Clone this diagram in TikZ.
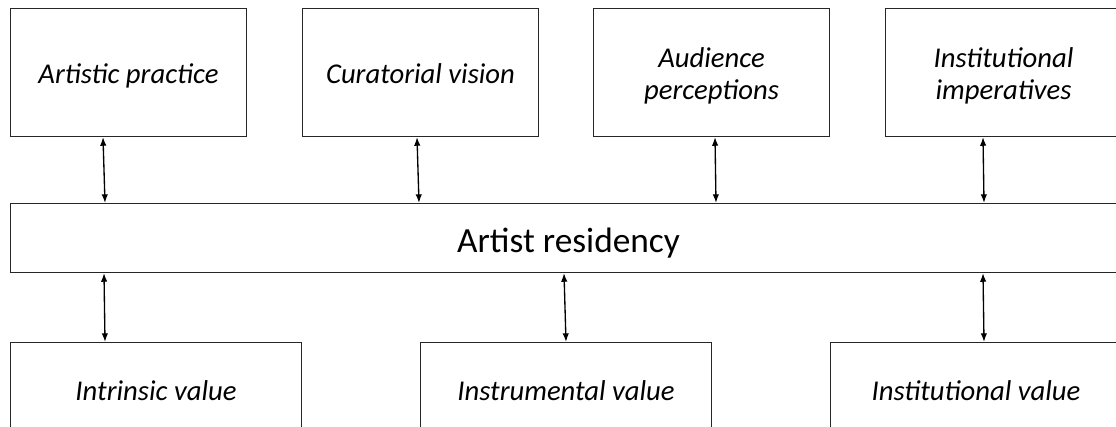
\documentclass[tikz,border=0pt]{standalone}
\usepackage{fontspec}
\setmainfont{Carlito}
\usetikzlibrary{calc,arrows.meta}
\begin{document}
\begin{tikzpicture}[x=0.75pt,y=-0.75pt,
  box/.style={draw=black!85, line width=0.8pt, rectangle, inner sep=0pt, anchor=north west,
    font=\fontsize{21.5}{24}\selectfont\itshape, align=center},
  topbox/.style={box, minimum width=177pt, minimum height=96pt},
  oneline/.style={text height=16.5pt, text depth=0pt},
  twoline/.style={text height=40.5pt, text depth=0pt},
  botbox/.style={box, minimum width=218.25pt, minimum height=69pt, text height=18pt, text depth=0pt},
  arr/.style={{Latex[length=6.5pt,width=4.8pt]}-{Latex[length=6.5pt,width=4.8pt]}, line width=1pt}]
\useasboundingbox (0,0) rectangle (1116,427);
\clip (0,0) rectangle (1116,427);
\node[topbox, oneline] (t1) at (10,8) {Artistic practice};
\node[topbox, oneline] (t2) at (302,8) {Curatorial vision};
\node[topbox, twoline] (t3) at (593,8) {Audience\\perceptions};
\node[topbox, twoline] (t4) at (885,8) {Institutional\\imperatives};
\node[box, minimum width=837pt, minimum height=51.75pt, text height=21.75pt, text depth=0pt, font=\fontsize{26.5}{30}\selectfont] (r) at (10,203) {Artist residency};
\node[botbox] (b1) at (10,342) {Intrinsic value};
\node[botbox] (b2) at (420,342) {Instrumental value};
\node[botbox] (b3) at (830,342) {Institutional value};
% top arrows
\draw[arr] ($(t1.south west)+(93,0)$) -- ($(r.north west)+(95,0)$);
\draw[arr] ($(t2.south west)+(115,0)$) -- ($(r.north west)+(409,0)$);
\draw[arr] ($(t3.south west)+(122,0)$) -- ($(r.north west)+(706,0)$);
\draw[arr] ($(t4.south west)+(98,0)$) -- ($(r.north west)+(974,0)$);
% bottom arrows
\draw[arr] ($(r.south west)+(94,0)$) -- ($(b1.north west)+(95,0)$);
\draw[arr] ($(r.south west)+(554,0)$) -- ($(b2.north west)+(146,0)$);
\draw[arr] ($(r.south west)+(973,0)$) -- ($(b3.north west)+(154,0)$);
\end{tikzpicture}
\end{document}
